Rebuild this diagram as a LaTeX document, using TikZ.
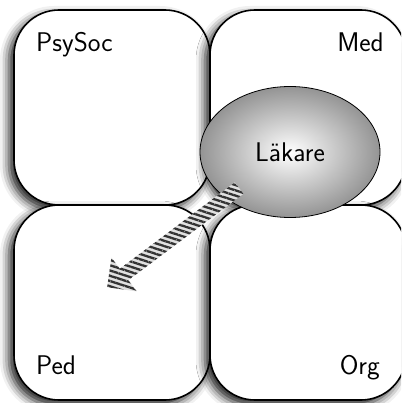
\documentclass[tikz,border=0pt]{standalone}
\usetikzlibrary{shapes.geometric,shapes.arrows,shadows.blur,patterns.meta}

\tikzset{
  fieldshadow/.style={blur shadow={shadow xshift=-5pt, shadow yshift=-5pt,
      shadow blur radius=9pt, shadow opacity=90}},
  fieldbox/.style={draw=black, line width=1.6pt, fill=white,
      rounded corners=45pt, minimum width=196pt, minimum height=195pt,
      inner sep=0pt, fieldshadow},
  fieldlabel/.style={font=\fontsize{27}{30}\selectfont\sffamily, inner sep=0pt},
}

\begin{document}
\begin{tikzpicture}[x=1pt,y=-1pt]
  \useasboundingbox (0,0) rectangle (401,403);
  \clip (0,0) rectangle (401,403);
  \def\bw{196}
  \def\bh{195}

  % four fields
  \node[fieldbox] (psysoc) at (14+0.5*\bw, 10+0.5*\bh) {};
  \node[fieldbox] (med) at (14+1.5*\bw, 10+0.5*\bh) {};
  \node[fieldbox] (ped) at (14+0.5*\bw, 10+1.5*\bh) {};
  \node[fieldbox] (org) at (14+1.5*\bw, 10+1.5*\bh) {};

  \node[fieldlabel, anchor=base west] (psysoclabel) at (36,52) {PsySoc};
  \node[fieldlabel, anchor=base east] (medlabel) at (384,52) {Med};
  \node[fieldlabel, anchor=base west] (pedlabel) at (36,374) {Ped};
  \node[fieldlabel, anchor=base east] (orglabel) at (380,374) {Org};

  % the doctor
  \node[ellipse, draw=black, line width=0.8pt, minimum width=180pt,
        minimum height=131pt, inner sep=0pt, fieldlabel,
        inner color=white, outer color=black!42] (lakare) at (290,152) {Läkare};

  % striped arrow towards Ped
  \node[single arrow, rotate=216.9, minimum height=165pt,
        inner xsep=0pt, inner ysep=6pt, single arrow head extend=14pt,
        preaction={fill=black!12},
        pattern={Lines[angle=-18, distance=5pt, line width=2.3pt]},
        pattern color=black!80] (shift) at (176,235.5) {};
\end{tikzpicture}
\end{document}
